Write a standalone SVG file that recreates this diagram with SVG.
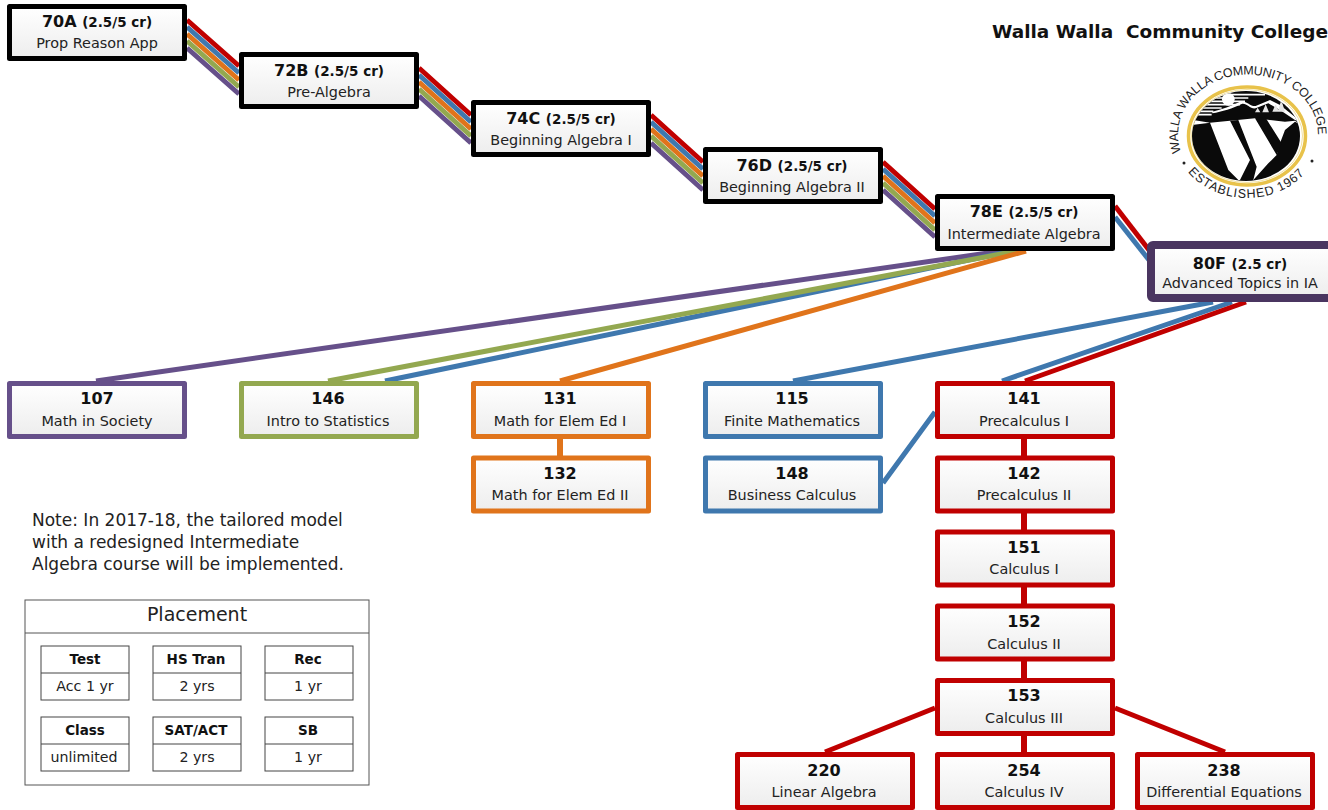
<svg xmlns="http://www.w3.org/2000/svg" width="1328" height="810" viewBox="0 0 1328 810">
<style>
text{font-family:"DejaVu Sans","Noto Sans",sans-serif;fill:#111}
.t{font-size:16px;font-weight:700;text-anchor:middle}
.t tspan{font-size:13.500px}
.s{font-size:14.400px;text-anchor:middle;fill:#222}
.n{fill:url(#g);stroke-width:5;stroke-linejoin:round}
.k{stroke:#000}.p{stroke:#66508A}.gr{stroke:#93A850}.o{stroke:#E0741B}.b{stroke:#3F78AE}.r{stroke:#C00000}
.d{stroke:#4A3560;stroke-width:8}
#connectors path{fill:none;stroke-width:5}
.c{fill:#fff;stroke:#444;stroke-width:1}
.h{font-size:13.500px;font-weight:700;text-anchor:middle}
.v{font-size:14.200px;text-anchor:middle;fill:#222}
.note{font-size:17px;fill:#222}
.lg{font-family:"Liberation Sans",sans-serif;font-size:12.500px;fill:#222}
</style>
<defs>
<linearGradient id="g" x1="0" y1="0" x2="0" y2="1"><stop offset="0" stop-color="#fff"/><stop offset="1" stop-color="#ededed"/></linearGradient>
<path id="arcTop" d="M1181,152 A70,60 0 1 1 1315,152"/>
<path id="arcBot" d="M1188,172 A73,63 0 0 0 1306,172"/>
<clipPath id="disc"><ellipse cx="1246" cy="136" rx="54" ry="45"/></clipPath>
</defs>
<g id="connectors">
<g id="ribbons">
<path class="p" d="M187,48L239,94M419,96L471,143M651,143L703,190M883,190L935,237"/>
<path class="gr" d="M187,41L239,87M419,89L471,136M651,136L703,183M883,183L935,230"/>
<path class="o" d="M187,34L239,80M419,82L471,129M651,129L703,176M883,176L935,223"/>
<path class="b" d="M187,27L239,73M419,75L471,122M651,122L703,169M883,169L935,216"/>
<path class="r" d="M187,20L239,66M419,68L471,115M651,115L703,162M883,162L935,209"/>
<path class="r" d="M1115,206L1149,250"/>
<path class="b" d="M1115,217L1149,260"/>
</g>
<path class="p" d="M1002,251L96,381"/>
<path class="b" d="M1012,251L385,381"/>
<path class="gr" d="M1017,251L328,381"/>
<path class="o" d="M1026,251L560,381"/>
<path class="b" d="M1213,302L793,381"/>
<path class="b" d="M1232,302L1002,381M935,412L883,483"/>
<path class="r" d="M1246,302L1025,381"/>
<path class="o" d="M560,439V456" style="stroke-width:6"/>
<path class="r" d="M1024,439V752" style="stroke-width:6"/>
<path class="r" d="M935,708L825,752M1115,708L1225,752"/>
</g>
<g id="n70A"><rect class="n k" x="9.500" y="6.500" width="175" height="52"/><text class="t" x="97" y="27">70A <tspan>(2.5/5 cr)</tspan></text><text class="s" x="97" y="48">Prop Reason App</text></g>
<g id="n72B"><rect class="n k" x="241.500" y="54.500" width="175" height="52"/><text class="t" x="329" y="76">72B <tspan>(2.5/5 cr)</tspan></text><text class="s" x="329" y="97">Pre-Algebra</text></g>
<g id="n74C"><rect class="n k" x="473.500" y="102.500" width="175" height="52"/><text class="t" x="561" y="124">74C <tspan>(2.5/5 cr)</tspan></text><text class="s" x="561" y="145">Beginning Algebra I</text></g>
<g id="n76D"><rect class="n k" x="705.500" y="149.500" width="175" height="52"/><text class="t" x="792" y="171">76D <tspan>(2.5/5 cr)</tspan></text><text class="s" x="792" y="192">Beginning Algebra II</text></g>
<g id="n78E"><rect class="n k" x="937.500" y="196.500" width="175" height="52"/><text class="t" x="1024" y="217">78E <tspan>(2.5/5 cr)</tspan></text><text class="s" x="1024" y="239">Intermediate Algebra</text></g>
<g id="n80F"><rect class="n d" x="1151" y="245" width="181" height="53" rx="2"/><text class="t" x="1240" y="269">80F <tspan>(2.5 cr)</tspan></text><text class="s" x="1240" y="288">Advanced Topics in IA</text></g>
<g id="n107"><rect class="n p" x="9.500" y="383.500" width="175" height="53"/><text class="t" x="97" y="404">107</text><text class="s" x="97" y="426">Math in Society</text></g>
<g id="n146"><rect class="n gr" x="241.500" y="383.500" width="175" height="53"/><text class="t" x="328" y="404">146</text><text class="s" x="328" y="426">Intro to Statistics</text></g>
<g id="n131"><rect class="n o" x="473.500" y="383.500" width="175" height="53"/><text class="t" x="560" y="404">131</text><text class="s" x="560" y="426">Math for Elem Ed I</text></g>
<g id="n132"><rect class="n o" x="473.500" y="458" width="175" height="53"/><text class="t" x="560" y="479">132</text><text class="s" x="560" y="500">Math for Elem Ed II</text></g>
<g id="n115"><rect class="n b" x="705.500" y="383.500" width="175" height="53"/><text class="t" x="792" y="404">115</text><text class="s" x="792" y="426">Finite Mathematics</text></g>
<g id="n148"><rect class="n b" x="705.500" y="458" width="175" height="53"/><text class="t" x="792" y="479">148</text><text class="s" x="792" y="500">Business Calculus</text></g>
<g id="n141"><rect class="n r" x="937.500" y="383.500" width="175" height="53"/><text class="t" x="1024" y="404">141</text><text class="s" x="1024" y="426">Precalculus I</text></g>
<g id="n142"><rect class="n r" x="937.500" y="458" width="175" height="53"/><text class="t" x="1024" y="479">142</text><text class="s" x="1024" y="500">Precalculus II</text></g>
<g id="n151"><rect class="n r" x="937.500" y="532" width="175" height="53"/><text class="t" x="1024" y="553">151</text><text class="s" x="1024" y="574">Calculus I</text></g>
<g id="n152"><rect class="n r" x="937.500" y="606" width="175" height="53"/><text class="t" x="1024" y="627">152</text><text class="s" x="1024" y="649">Calculus II</text></g>
<g id="n153"><rect class="n r" x="937.500" y="680.500" width="175" height="53"/><text class="t" x="1024" y="701">153</text><text class="s" x="1024" y="723">Calculus III</text></g>
<g id="n220"><rect class="n r" x="737.500" y="754.500" width="175" height="53"/><text class="t" x="824" y="776">220</text><text class="s" x="824" y="797">Linear Algebra</text></g>
<g id="n254"><rect class="n r" x="937.500" y="754.500" width="175" height="53"/><text class="t" x="1024" y="776">254</text><text class="s" x="1024" y="797">Calculus IV</text></g>
<g id="n238"><rect class="n r" x="1137.500" y="754.500" width="175" height="53"/><text class="t" x="1224" y="797" style="font-size:14.400px;font-weight:400;fill:#222">Differential Equations</text><text class="t" x="1224" y="776">238</text></g>
<text x="992" y="38" textLength="336" lengthAdjust="spacingAndGlyphs" style="font-size:18px;font-weight:700;white-space:pre" xml:space="preserve">Walla Walla  Community College</text>
<g id="logo">
<ellipse cx="1247" cy="136" rx="58.500" ry="49" fill="none" stroke="#E8C24A" stroke-width="3.500"/>
<ellipse cx="1247" cy="136" rx="55.500" ry="46.500" fill="none" stroke="#F3E2A0" stroke-width="1"/>
<ellipse cx="1246" cy="136" rx="54" ry="45" fill="#0a0a0a"/>
<g clip-path="url(#disc)">
<g transform="translate(1185 80) scale(.3333)">
<path d="M20,44H240M20,54H190M20,64H180M20,74H165M20,84H110M20,94H85M20,104H80" stroke="#fff" stroke-width="5" fill="none"/>
<circle cx="130" cy="58" r="19" fill="#fff"/>
<path d="M82,100C110,95 145,85 170,72C185,68 195,88 212,85L250,70L285,90L330,120L345,125L350,40H300L335,115L285,75L255,60L212,78C195,80 185,60 165,65C140,78 110,88 82,95Z" fill="#fff"/>
<path d="M210,97l8,-14l8,14zM232,97l10,-24l10,24zM262,95l10,-22l10,22zM278,95l11,-35l11,35z" fill="#e4e4e4"/>
<path d="M15,130L25,120L75,128L135,122L210,115L300,125L330,122L350,135L330,125L300,150L285,190L275,225L250,250L205,300H160L130,270L75,128L20,135Z" fill="#fff"/>
<path d="M135,122L160,120L215,260L205,300H165L195,240ZM210,115L240,110L290,190L275,225Z" fill="#0a0a0a"/>
</g>
</g>
<text class="lg"><textPath href="#arcTop" textLength="222" lengthAdjust="spacing">WALLA WALLA COMMUNITY COLLEGE</textPath></text>
<text class="lg"><textPath href="#arcBot" textLength="130" lengthAdjust="spacing">ESTABLISHED 1967</textPath></text>
<circle cx="1184" cy="163" r="1.500" fill="#222"/><circle cx="1312" cy="161" r="1.500" fill="#222"/>
</g>
<text class="note"><tspan x="32" y="526">Note: In 2017-18, the tailored model</tspan><tspan x="32" y="548">with a redesigned Intermediate</tspan><tspan x="32" y="570">Algebra course will be implemented.</tspan></text>
<g id="placement">
<rect x="25" y="600" width="344" height="185" fill="#fff" stroke="#555" stroke-width="1"/>
<path d="M25,633H369" stroke="#555" stroke-width="1"/>
<text x="197" y="621" style="font-size:19px;text-anchor:middle;fill:#222">Placement</text>
<g id="pTest"><rect class="c" x="41" y="646" width="88" height="54"/><path class="c" d="M41,673H129"/><text class="h" x="85" y="664">Test</text><text class="v" x="85" y="691">Acc 1 yr</text></g>
<g id="pHS"><rect class="c" x="153" y="646" width="88" height="54"/><path class="c" d="M153,673H241"/><text class="h" x="196" y="664">HS Tran</text><text class="v" x="197" y="691">2 yrs</text></g>
<g id="pRec"><rect class="c" x="265" y="646" width="88" height="54"/><path class="c" d="M265,673H353"/><text class="h" x="308" y="664">Rec</text><text class="v" x="308" y="691">1 yr</text></g>
<g id="pClass"><rect class="c" x="41" y="717" width="88" height="54"/><path class="c" d="M41,744H129"/><text class="h" x="85" y="735">Class</text><text class="v" x="84" y="762">unlimited</text></g>
<g id="pSAT"><rect class="c" x="153" y="717" width="88" height="54"/><path class="c" d="M153,744H241"/><text class="h" x="196" y="735">SAT/ACT</text><text class="v" x="197" y="762">2 yrs</text></g>
<g id="pSB"><rect class="c" x="265" y="717" width="88" height="54"/><path class="c" d="M265,744H353"/><text class="h" x="308" y="735">SB</text><text class="v" x="308" y="762">1 yr</text></g>
</g>
</svg>
